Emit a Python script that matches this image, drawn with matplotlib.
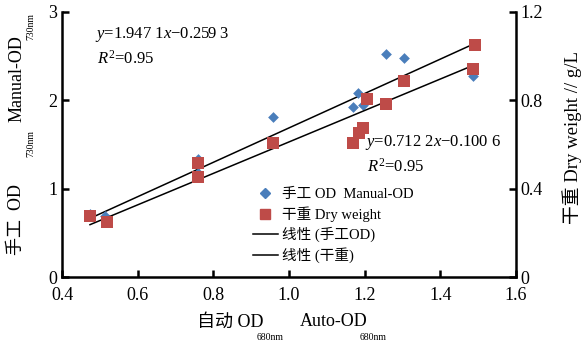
import matplotlib
matplotlib.use("Agg")
import numpy as np
import matplotlib.pyplot as plt
from matplotlib.lines import Line2D

plt.rcParams['font.family'] = ['Liberation Serif', 'Noto Sans CJK SC', 'DejaVu Sans']
plt.rcParams['mathtext.fontset'] = 'custom'
plt.rcParams['mathtext.rm'] = 'Liberation Serif'
plt.rcParams['mathtext.it'] = 'Liberation Serif:italic'

# manual OD (left axis)
manual_x = [0.474, 0.514, 0.759, 0.759, 0.957, 1.169, 1.182, 1.195, 1.256, 1.304, 1.486]
manual_y = [0.71, 0.69, 1.34, 1.18, 1.81, 1.93, 2.08, 1.95, 2.53, 2.48, 2.27]
# dry weight (right axis)
dry_x = [0.474, 0.519, 0.759, 0.759, 0.957, 1.169, 1.185, 1.195, 1.206, 1.256, 1.304, 1.486, 1.491]
dry_y = [0.275, 0.249, 0.516, 0.453, 0.607, 0.607, 0.652, 0.675, 0.806, 0.783, 0.888, 0.942, 1.051]

manual_fit = (1.9471, -0.2593)
dry_fit = (0.7122, -0.1006)

W, H = 584, 343
fig = plt.figure(figsize=(W / 100, H / 100), dpi=100)
ax = fig.add_axes([62 / W, 66 / H, 454 / W, 265 / H])
ax2 = ax.twinx()

def px(x, y):
    # figure pixel (from top-left) -> figure fraction
    return x / W, 1 - y / H

blue = '#4a7ebb'
red = '#be4b48'

ax.scatter(manual_x, manual_y, marker='D', s=30, color=blue, zorder=3, linewidths=0)
ax2.scatter(dry_x, dry_y, marker='s', s=85, color=red, zorder=3, linewidths=0)

xs = np.array([min(manual_x), max(manual_x)])
ax.plot(xs, manual_fit[0] * xs + manual_fit[1], color='black', lw=1.1, zorder=2)
xs2 = np.array([min(dry_x), max(dry_x)])
ax2.plot(xs2, dry_fit[0] * xs2 + dry_fit[1], color='black', lw=1.1, zorder=2)

ax.set_xlim(0.4, 1.6)
ax.set_ylim(0, 3)
ax2.set_ylim(0, 1.2)
ax.set_xticks([0.4, 0.6, 0.8, 1.0, 1.2, 1.4, 1.6])
ax.set_xticklabels(['0.4', '0.6', '0.8', '1.0', '1.2', '1.4', '1.6'])
ax.set_yticks([0, 1, 2, 3])
ax.set_yticklabels(['0', '1', '2', '3'])
ax2.set_yticks([0, 0.4, 0.8, 1.2])
ax2.set_yticklabels(['0', '0.4', '0.8', '1.2'])

for a in (ax, ax2):
    a.spines['top'].set_visible(False)
    for s in a.spines.values():
        s.set_linewidth(1.8)
    a.tick_params(direction='in', length=5, width=1.8, labelsize=13)
ax.tick_params(axis='x', pad=7)
ax.spines['right'].set_visible(False)
ax2.spines['left'].set_visible(False)
ax2.spines['bottom'].set_visible(False)

# axis titles with offset subscripts, as in the original
fig.text(*px(17, 255), '手工  OD', rotation=90, ha='center', va='bottom', fontsize=13)
fig.text(*px(31, 157), '730nm', rotation=90, ha='center', va='bottom', fontsize=7)
fig.text(*px(17, 122), 'Manual-OD', rotation=90, ha='center', va='bottom', fontsize=13)
fig.text(*px(31, 40), '730nm', rotation=90, ha='center', va='bottom', fontsize=7)
fig.text(*px(572, 224), '干重 Dry weight // g/L', rotation=90, ha='center', va='bottom', fontsize=13.5)
fig.text(*px(197, 322), '自动 OD', ha='left', va='center', fontsize=13)
fig.text(*px(257, 338), '680nm', ha='left', va='center', fontsize=7)
fig.text(*px(300, 322), 'Auto-OD', ha='left', va='center', fontsize=13)
fig.text(*px(360, 338), '680nm', ha='left', va='center', fontsize=7)

fig.text(*px(95, 34), '$y$=1.947 1$x$\u22120.259 3', ha='left', va='center', fontsize=12)
fig.text(*px(97, 59), '$R^2$=0.95', ha='left', va='center', fontsize=12)
fig.text(*px(365, 142), '$y$=0.712 2$x$\u22120.100 6', ha='left', va='center', fontsize=12)
fig.text(*px(367, 167), '$R^2$=0.95', ha='left', va='center', fontsize=12)

handles = [
    Line2D([], [], marker='D', color=blue, ls='none', markersize=5.5),
    Line2D([], [], marker='s', color=red, ls='none', markersize=7),
    Line2D([], [], color='black', lw=1.1),
    Line2D([], [], color='black', lw=1.1),
]
labels = ['手工 OD  Manual-OD', '干重 Dry weight', '线性 (手工OD)', '线性 (干重)']
ax.legend(handles, labels, loc='upper left', bbox_to_anchor=(191 / 454, 89 / 265),
          frameon=False, fontsize=10.5, handlelength=1.7, handletextpad=0.3,
          labelspacing=0.35, borderpad=0, borderaxespad=0)

fig.savefig('out.png', dpi=100)
